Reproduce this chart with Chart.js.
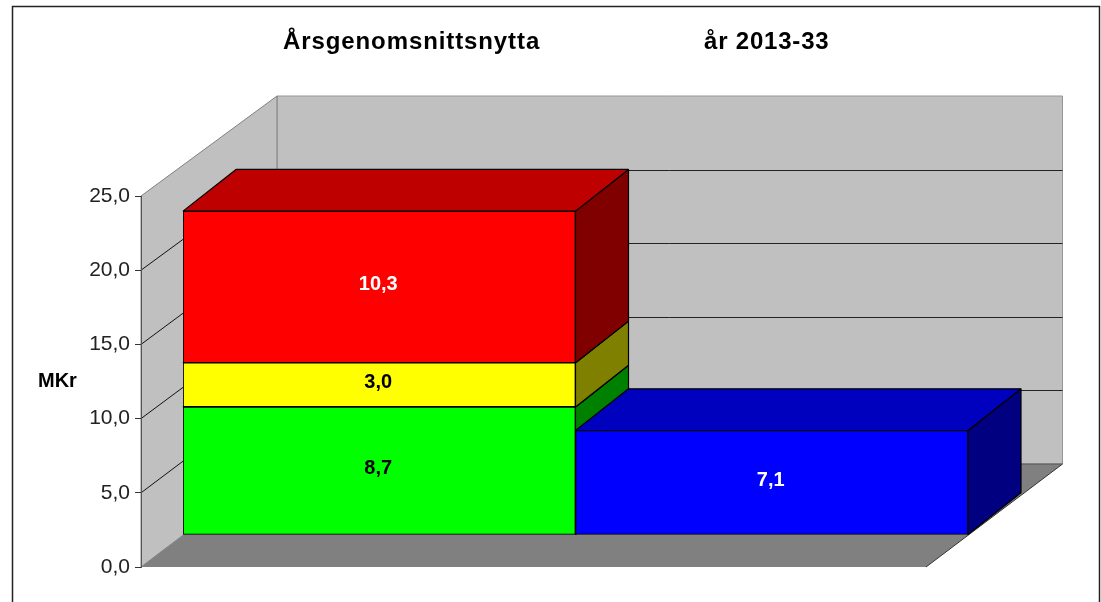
<!DOCTYPE html>
<html>
<head>
<meta charset="utf-8">
<title>Årsgenomsnittsnytta</title>
<script src="https://cdn.jsdelivr.net/npm/chart.js@4"></script>
<style>
    html, body { margin: 0; padding: 0; background: #ffffff; overflow: hidden; }
    canvas { display: block; }
</style>
</head>
<body>
<canvas id="nyttaChart" width="1101" height="602"></canvas>
<script>
// Chart data
const categories = ['Nytta A', 'Nytta B'];
const greenValues = [8.7, null];
const yellowValues = [3.0, null];
const redValues = [10.3, null];
const blueValues = [null, 7.1];
const tickValues = [0, 5, 10, 15, 20, 25];

const titleLeft = 'Årsgenomsnittsnytta';
const titleRight = 'år 2013-33';
const unitLabel = 'MKr';

// Colours per face of each box: front, top, side, label
const seriesStyles = [
    { front: '#00ff00', top: '#00bf00', side: '#008000', label: '#000000' },
    { front: '#ffff00', top: '#bfbf00', side: '#808000', label: '#000000' },
    { front: '#ff0000', top: '#bf0000', side: '#800000', label: '#ffffff' },
    { front: '#0000ff', top: '#0000bf', side: '#000080', label: '#ffffff' }
];

// 3D geometry: the bars stand inside the box, shifted from the front plane
const barShift = { x: 42, y: -32 };
const barDepth = { x: 53, y: -42 };
const wallDepth = { x: 136, y: -103 };
const barPlaneScale = 0.992;
const labelOffset = { x: -1, y: -2 };

const FONT = '"Liberation Sans", Arial, sans-serif';

function formatValue(value) {
    return value.toFixed(1).replace('.', ',');
}

function fillPolygon(ctx, points, fill, stroke, width) {
    ctx.beginPath();
    points.forEach((p, i) => {
        if (i === 0) ctx.moveTo(p[0], p[1]);
        else ctx.lineTo(p[0], p[1]);
    });
    ctx.closePath();
    if (fill) {
        ctx.fillStyle = fill;
        ctx.fill();
    }
    if (stroke) {
        ctx.strokeStyle = stroke;
        ctx.lineWidth = width || 1;
        ctx.lineJoin = 'bevel';
        ctx.stroke();
    }
}

function drawLine(ctx, x1, y1, x2, y2, color) {
    ctx.beginPath();
    ctx.moveTo(x1, y1);
    ctx.lineTo(x2, y2);
    ctx.strokeStyle = color;
    ctx.lineWidth = 1;
    ctx.stroke();
}

/**
 * Walls, floor, grid lines, frame and the horizontal texts
 */
function drawBackdrop(chart) {
    const ctx = chart.ctx;
    const area = chart.chartArea;
    const yScale = chart.scales.y;
    // the back wall is a little shorter than the front plane
    const backY = value => yScale.getPixelForValue(value) + wallDepth.y + 3 * value / 25;
    const backX = area.left + wallDepth.x;
    const backRight = area.right + wallDepth.x + 0.5;
    const bottomBack = backY(0);
    const topBack = backY(25);

    ctx.save();

    // outer frame, the bottom edge is cut off in the picture
    ctx.beginPath();
    ctx.moveTo(12.5, 602);
    ctx.lineTo(12.5, 6.5);
    ctx.lineTo(1099.5, 6.5);
    ctx.lineTo(1099.5, 602);
    ctx.strokeStyle = '#222222';
    ctx.lineWidth = 1.5;
    ctx.stroke();

    // back wall and side wall
    fillPolygon(ctx, [[backX, topBack], [backRight, topBack], [backRight, bottomBack], [backX, bottomBack]], '#c0c0c0', '#969696');
    fillPolygon(ctx, [[area.left, area.top], [backX, topBack], [backX, bottomBack], [area.left, area.bottom]], '#c0c0c0', '#808080');

    // floor
    fillPolygon(ctx, [[area.left, area.bottom], [area.right, area.bottom], [backRight, bottomBack], [backX, bottomBack]], '#808080');
    drawLine(ctx, area.right, area.bottom, backRight, bottomBack, '#333333');

    // grid lines run along the side wall and the back wall
    tickValues.forEach(value => {
        if (value === 0 || value === 25) return;
        const y = yScale.getPixelForValue(value);
        const yBack = Math.round(backY(value)) + 0.5;
        drawLine(ctx, area.left, y, backX, yBack, '#111111');
        drawLine(ctx, backX, yBack, backRight, yBack, '#222222');
    });
    drawLine(ctx, backX, bottomBack, backRight, bottomBack, '#555555');

    // title and unit label
    ctx.fillStyle = '#000000';
    ctx.textBaseline = 'alphabetic';
    ctx.textAlign = 'left';
    ctx.font = 'bold 24px ' + FONT;
    ctx.letterSpacing = '0.9px';
    ctx.fillText(titleLeft, 283, 49);
    ctx.letterSpacing = '0.8px';
    ctx.fillText(titleRight, 704, 49);
    ctx.letterSpacing = '0px';
    ctx.font = 'bold 20px ' + FONT;
    ctx.fillText(unitLabel, 38, 387);

    ctx.restore();
}

/**
 * Top and side faces of the boxes, taken from the bar elements
 */
function drawBoxFaces(chart) {
    const ctx = chart.ctx;
    chart.data.datasets.forEach((dataset, datasetIndex) => {
        const style = seriesStyles[datasetIndex];
        chart.getDatasetMeta(datasetIndex).data.forEach((bar, index) => {
            if (dataset.data[index] === null) return;
            const props = bar.getProps(['x', 'y', 'base', 'width'], true);
            const left = props.x - props.width / 2;
            const right = props.x + props.width / 2;
            fillPolygon(ctx, [
                [right, props.base],
                [right + barDepth.x, props.base + barDepth.y],
                [right + barDepth.x, props.y + barDepth.y],
                [right, props.y]
            ], style.side, '#000000', 1.2);
            fillPolygon(ctx, [
                [left, props.y],
                [right, props.y],
                [right + barDepth.x, props.y + barDepth.y],
                [left + barDepth.x, props.y + barDepth.y]
            ], style.top, '#000000', 1.2);
        });
    });
}

/**
 * Value labels in the middle of each front face
 */
function drawValueLabels(chart) {
    const ctx = chart.ctx;
    ctx.font = 'bold 20px ' + FONT;
    ctx.textAlign = 'center';
    ctx.textBaseline = 'middle';
    chart.data.datasets.forEach((dataset, datasetIndex) => {
        chart.getDatasetMeta(datasetIndex).data.forEach((bar, index) => {
            const value = dataset.data[index];
            if (value === null) return;
            const props = bar.getProps(['x', 'y', 'base'], true);
            ctx.fillStyle = seriesStyles[datasetIndex].label;
            ctx.fillText(formatValue(value), props.x + labelOffset.x, (props.y + props.base) / 2 + labelOffset.y);
        });
    });
}

const box3dPlugin = {
    id: 'box3d',
    beforeDraw: drawBackdrop,
    beforeDatasetsDraw(chart) {
        // the whole bar layer is moved into the box, where one unit is slightly shorter
        const ctx = chart.ctx;
        const bottom = chart.chartArea.bottom;
        ctx.save();
        ctx.translate(barShift.x, barShift.y + bottom);
        ctx.scale(1, barPlaneScale);
        ctx.translate(0, -bottom);
        drawBoxFaces(chart);
    },
    afterDatasetsDraw(chart) {
        drawValueLabels(chart);
        chart.ctx.restore();
    }
};

function makeDataset(values, style) {
    return {
        data: values,
        backgroundColor: style.front,
        borderColor: '#000000',
        borderWidth: 1.2,
        borderSkipped: false
    };
}

new Chart(document.getElementById('nyttaChart'), {
    type: 'bar',
    data: {
        labels: categories,
        datasets: [
            makeDataset(greenValues, seriesStyles[0]),
            makeDataset(yellowValues, seriesStyles[1]),
            makeDataset(redValues, seriesStyles[2]),
            makeDataset(blueValues, seriesStyles[3])
        ]
    },
    options: {
        responsive: false,
        animation: false,
        barPercentage: 1,
        categoryPercentage: 1,
        layout: {
            padding: { left: 0, top: 196, right: 175, bottom: 35 }
        },
        plugins: {
            legend: { display: false },
            title: { display: false },
            tooltip: { enabled: false }
        },
        scales: {
            x: {
                stacked: true,
                display: false
            },
            y: {
                stacked: true,
                min: 0,
                max: 25,
                afterFit: scale => { scale.width = 141; },
                afterBuildTicks: scale => { scale.ticks = tickValues.map(value => ({ value })); },
                border: { color: '#555555', width: 1 },
                grid: { drawOnChartArea: false, tickLength: 6, color: '#333333' },
                ticks: {
                    padding: 5,
                    color: '#222222',
                    font: { family: FONT, size: 21 },
                    callback: value => formatValue(value)
                }
            }
        }
    },
    plugins: [box3dPlugin]
});
</script>
</body>
</html>
